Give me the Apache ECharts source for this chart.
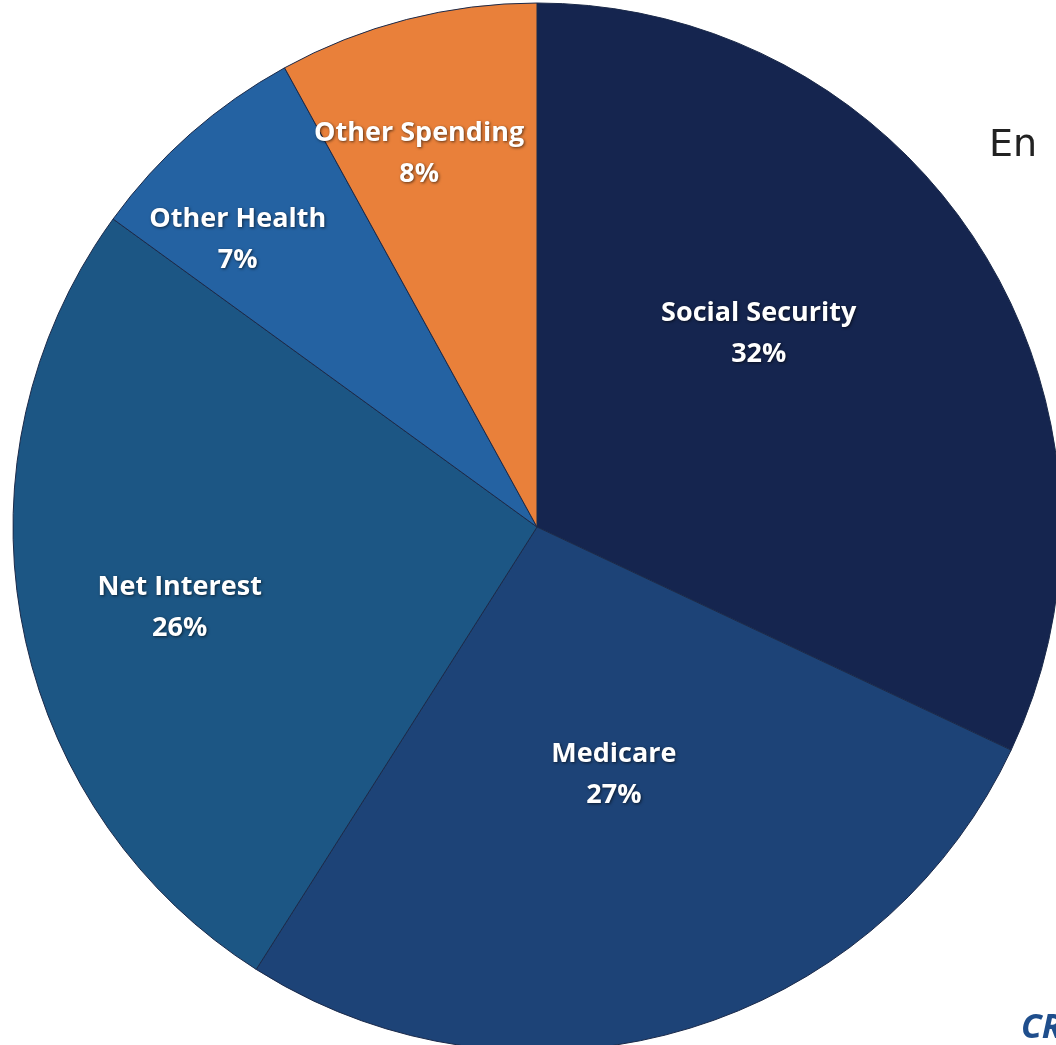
<!DOCTYPE html>
<html>
<head>
<meta charset="utf-8">
<script src="https://cdn.jsdelivr.net/npm/echarts@6/dist/echarts.min.js"></script>
<style>
html,body{margin:0;padding:0;background:#fff;}
#chart{width:1056px;height:1045px;}
</style>
</head>
<body>
<div id="chart"></div>
<script>
const categories = ['Social Security', 'Medicare', 'Net Interest', 'Other Health', 'Other Spending'];
const shares = [32, 27, 26, 7, 8];
const colors = ['#15254f', '#1d4377', '#1c5684', '#2462a2', '#e9803a'];
// label nudges (dx, dy) from the default inside position
const labelNudges = [[-2, -51], [3, -7], [-97, 31], [-124, -88], [-52, -117]];

const chart = echarts.init(document.getElementById('chart'), null, {renderer: 'canvas'});
chart.setOption({
  backgroundColor: '#ffffff',
  animation: false,
  title: [
    {text: 'En', left: 984, top: 122, textStyle: {fontFamily: 'DejaVu Sans', fontWeight: 'normal', fontSize: 38, color: '#222'}},
    {text: 'CRFB', left: 1016, top: 1006, textStyle: {fontFamily: 'Open Sans', fontWeight: 'bold', fontStyle: 'italic', fontSize: 34, color: '#1f4e8c'}}
  ],
  series: [{
    type: 'pie',
    center: [537, 527],
    radius: [0, 524],
    startAngle: 90,
    clockwise: true,
    silent: true,
    itemStyle: {borderColor: '#1b2a4a', borderWidth: 1},
    label: {
      position: 'inside',
      formatter: p => p.name + '\n' + p.value + '%',
      color: '#ffffff',
      fontFamily: 'Open Sans',
      fontWeight: 'bold',
      fontSize: 27,
      lineHeight: 41,
      align: 'center',
      textShadowColor: 'rgba(0,0,0,0.6)',
      textShadowBlur: 3,
      textShadowOffsetX: 1,
      textShadowOffsetY: 1
    },
    labelLine: {show: false},
    labelLayout: p => ({dx: labelNudges[p.dataIndex][0], dy: labelNudges[p.dataIndex][1]}),
    data: categories.map((c, i) => ({name: c, value: shares[i], itemStyle: {color: colors[i]}}))
  }]
});
</script>
</body>
</html>
